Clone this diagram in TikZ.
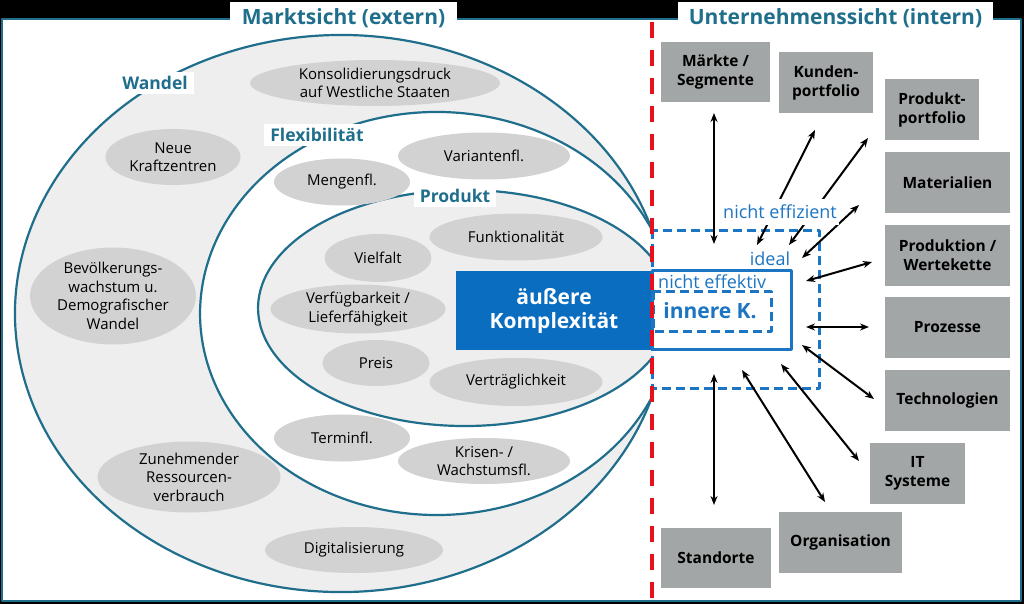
\documentclass[tikz,border=0pt]{standalone}
\usepackage{fontspec}
\setmainfont{Open Sans}
\usetikzlibrary{arrows.meta,shapes.geometric}
\definecolor{tealline}{HTML}{1F6E8C}
\definecolor{hellgrau}{HTML}{EEEEEE}
\definecolor{blasengrau}{HTML}{D2D2D2}
\definecolor{kastengrau}{HTML}{A3A6A6}
\definecolor{kblau}{HTML}{0B6DBF}
\definecolor{rblau}{HTML}{1C75C2}
\definecolor{rot}{HTML}{E8101A}
\begin{document}
\begin{tikzpicture}[x=1pt, y=-1pt, line join=round, >={Stealth[length=9pt,width=7pt]},
	bubble/.style={ellipse, fill=blasengrau, inner sep=-4pt, align=center, font=\fontsize{15}{18.5}\selectfont},
	kasten/.style={fill=kastengrau, inner sep=0pt, align=center, font=\fontsize{15.5}{19}\selectfont\bfseries},
	titel/.style={fill=white, text=tealline, inner sep=0pt, minimum height=32pt, font=\fontsize{21}{25}\selectfont\bfseries},
	ebene/.style={fill=white, text=tealline, inner xsep=6pt, inner ysep=4pt, font=\fontsize{17.5}{20}\selectfont\bfseries},
	blautext/.style={text=rblau, inner sep=1pt, font=\fontsize{18}{21}\selectfont}]
	%Rahmen.
	\useasboundingbox (0,0) rectangle (1024,604);
	\fill (0,0) rectangle (1024,604);
	\draw[tealline, line width=2.5pt, fill=white] (2,19) rectangle (1021,601);
	\node[titel, minimum width=227pt] (markt) at (343.5,18) {Marktsicht (extern)};
	\node[titel, minimum width=315pt] (unternehmen) at (835.5,18) {Unternehmenssicht (intern)};
	%Ebenen.
	\filldraw[tealline, line width=2.2pt, fill=hellgrau] (652,230) arc[start angle=-17.45, end angle=-342.55, x radius=326, y radius=278.5];
	\filldraw[tealline, line width=2.2pt, fill=white] (652,230) arc[start angle=-24.48, end angle=-335.52, x radius=236.6, y radius=201.5];
	\filldraw[tealline, line width=2.2pt, fill=hellgrau] (652,258) arc[start angle=-25.07, end angle=-334.93, x radius=206.7, y radius=118];
	\node[ebene] (wandel) at (155,83) {Wandel};
	\node[ebene] (flex) at (317,135) {Flexibilität};
	\node[ebene] (produkt) at (455,196) {Produkt};
	%Blasen.
	\node[bubble, minimum width=250pt, minimum height=46pt] (konso) at (375,83) {Konsolidierungsdruck\\auf Westliche Staaten};
	\node[bubble, minimum width=135pt, minimum height=56pt] (neue) at (173,157) {Neue\\Kraftzentren};
	\node[bubble, minimum width=172pt, minimum height=47pt] (variante) at (484,156) {Variantenfl.};
	\node[bubble, minimum width=136pt, minimum height=47pt] (menge) at (342,182) {Mengenfl.};
	\node[bubble, minimum width=173pt, minimum height=47pt] (funktion) at (516,237) {Funktionalität};
	\node[bubble, minimum width=107pt, minimum height=48pt] (vielfalt) at (378,258) {Vielfalt};
	\node[bubble, minimum width=166pt, minimum height=97pt] (bevoelk) at (113,296) {Bevölkerungs-\\wachstum u.\\Demografischer\\Wandel};
	\node[bubble, minimum width=175pt, minimum height=49pt] (verfueg) at (358,309) {Verfügbarkeit /\\Lieferfähigkeit};
	\node[bubble, minimum width=107pt, minimum height=46pt] (preis) at (376,363) {Preis};
	\node[bubble, minimum width=173pt, minimum height=48pt] (vertrag) at (516,382) {Verträglichkeit};
	\node[bubble, minimum width=136pt, minimum height=47pt] (termin) at (342,438) {Terminfl.};
	\node[bubble, minimum width=172pt, minimum height=46pt] (krise) at (484,461) {Krisen- /\\Wachstumsfl.};
	\node[bubble, minimum width=183pt, minimum height=71pt] (ressource) at (189,477) {Zunehmender\\Ressourcen-\\verbrauch};
	\node[bubble, minimum width=178pt, minimum height=46pt] (digital) at (354,550) {Digitalisierung};
	%Äußere Komplexität.
	\node[fill=kblau, text=white, align=center, minimum width=196pt, minimum height=79pt, inner sep=0pt, font=\fontsize{21}{24}\selectfont\bfseries] (aussen) at (554,310.5) {äußere\\Komplexität};
	%Innere Komplexität.
	\draw[rblau, line width=3pt, dash pattern=on 9pt off 5pt] (652,230) rectangle (819,388);
	\draw[rblau, line width=3pt, fill=white] (652,270) rectangle (791,349);
	\draw[rblau, line width=3pt, dash pattern=on 9pt off 5pt] (653,291) rectangle (771,331);
	\node[text=rblau, font=\fontsize{21}{24}\selectfont\bfseries] (innen) at (710,311) {innere K.};
	\node[blautext, anchor=west] (effektiv) at (657,282) {nicht effektiv};
	\node[blautext] (ideal) at (770,259) {ideal};
	%Kästen.
	\node[kasten, minimum width=109pt, minimum height=60pt] (maerkte) at (715.5,72) {Märkte /\\Segmente};
	\node[kasten, minimum width=94pt, minimum height=61pt] (kunden) at (826,82.5) {Kunden-\\portfolio};
	\node[kasten, minimum width=94pt, minimum height=61pt] (prodport) at (932,109.5) {Produkt-\\portfolio};
	\node[kasten, minimum width=125pt, minimum height=61pt] (material) at (947.5,182.5) {Materialien};
	\node[kasten, minimum width=125pt, minimum height=61pt] (wertekette) at (947.5,255.5) {Produktion /\\Wertekette};
	\node[kasten, minimum width=125pt, minimum height=61pt] (prozesse) at (947.5,327.5) {Prozesse};
	\node[kasten, minimum width=125pt, minimum height=61pt] (techno) at (947.5,400.5) {Technologien};
	\node[kasten, minimum width=95pt, minimum height=61pt] (itsys) at (917.5,473.5) {IT\\Systeme};
	\node[kasten, minimum width=123pt, minimum height=61pt] (orga) at (840.5,542.5) {Organisation};
	\node[kasten, minimum width=110pt, minimum height=60pt] (standort) at (716,558) {Standorte};
	%Pfeile.
	\coordinate (m1) at (714,113); \coordinate (m2) at (714,244);
	\coordinate (k1) at (815,130); \coordinate (k2) at (757,245);
	\coordinate (p1) at (868,138); \coordinate (p2) at (789,245);
	\coordinate (a1) at (859,205); \coordinate (a2) at (802,258);
	\coordinate (w1) at (872,262); \coordinate (w2) at (806,281);
	\coordinate (z1) at (869,327); \coordinate (z2) at (806,327);
	\coordinate (t1) at (874,399); \coordinate (t2) at (802,345);
	\coordinate (i1) at (859,461); \coordinate (i2) at (781,364);
	\coordinate (o1) at (825,502); \coordinate (o2) at (742,370);
	\coordinate (s1) at (714,505); \coordinate (s2) at (714,374);
	\foreach \p in {m,k,p,a,w,z,t,i,o,s}{
		\draw[<->, line width=2pt] (\p1)--(\p2);
	}
	\node[blautext, fill=white, inner xsep=2pt, inner ysep=6pt] (effizient) at (780,212) {nicht effizient};
	%Trennlinie.
	\draw[rot, line width=4pt, dash pattern=on 16pt off 12pt] (652,22)--(652,604);
\end{tikzpicture}
\end{document}
